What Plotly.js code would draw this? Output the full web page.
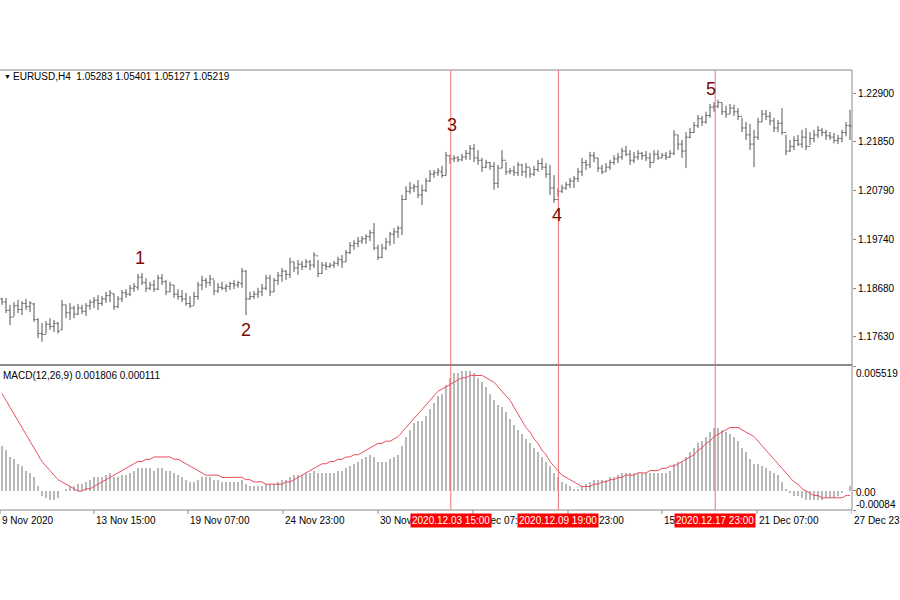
<!DOCTYPE html>
<html>
<head>
<meta charset="utf-8">
<script src="https://cdn.plot.ly/plotly-3.0.1.min.js"></script>
<style>html,body{margin:0;padding:0;background:#fff;}#chart{width:900px;height:600px;}</style>
</head>
<body>
<div id="chart"></div>
<script>
// ---- price bars (EURUSD H4), one entry per bar, left to right ----
const barOpen = [
1.1845,1.1838,1.1820,1.1806,1.1830,1.1822,1.1835,1.1828,1.1834,1.1800,
1.1770,1.1768,1.1790,1.1785,1.1792,1.1778,1.1832,1.1815,1.1825,1.1812,
1.1825,1.1818,1.1830,1.1838,1.1842,1.1835,1.1845,1.1852,1.1856,1.1828,
1.1845,1.1858,1.1855,1.1868,1.1870,1.1892,1.1880,1.1868,1.1875,1.1866,
1.1890,1.1882,1.1860,1.1875,1.1855,1.1850,1.1845,1.1835,1.1830,1.1850,
1.1875,1.1885,1.1880,1.1888,1.1862,1.1870,1.1868,1.1872,1.1878,1.1875,
1.1878,1.1905,1.1845,1.1850,1.1855,1.1860,1.1868,1.1890,1.1860,1.1885,
1.1895,1.1905,1.1898,1.1925,1.1912,1.1920,1.1915,1.1925,1.1918,1.1938,
1.1900,1.1918,1.1915,1.1918,1.1922,1.1930,1.1925,1.1945,1.1960,1.1965,
1.1970,1.1975,1.1980,1.1988,1.1955,1.1935,1.1955,1.1968,1.1985,1.1990,
1.1998,1.2060,1.2078,1.2085,1.2088,1.2070,1.2080,1.2100,1.2115,1.2118,
1.2120,1.2112,1.2155,1.2148,1.2150,1.2146,1.2152,1.2160,1.2170,1.2150,
1.2145,1.2130,1.2140,1.2132,1.2095,1.2128,1.2145,1.2120,1.2122,1.2118,
1.2135,1.2120,1.2130,1.2115,1.2125,1.2138,1.2130,1.2115,1.2085,1.2060,
1.2078,1.2085,1.2092,1.2100,1.2105,1.2120,1.2140,1.2135,1.2155,1.2150,
1.2128,1.2120,1.2130,1.2140,1.2148,1.2152,1.2165,1.2158,1.2145,1.2152,
1.2160,1.2155,1.2150,1.2140,1.2158,1.2150,1.2156,1.2152,1.2160,1.2200,
1.2180,1.2165,1.2195,1.2205,1.2220,1.2235,1.2228,1.2242,1.2260,1.2262,
1.2270,1.2250,1.2245,1.2258,1.2250,1.2240,1.2215,1.2200,1.2180,1.2195,
1.2228,1.2245,1.2240,1.2230,1.2215,1.2225,1.2205,1.2165,1.2175,1.2188,
1.2180,1.2195,1.2175,1.2192,1.2200,1.2210,1.2205,1.2198,1.2195,1.2188,
1.2192,1.2205,1.2220];
const barHigh = [
1.1847,1.1847,1.1832,1.1838,1.1843,1.1840,1.1845,1.1840,1.1836,1.1803,
1.1793,1.1797,1.1803,1.1799,1.1795,1.1843,1.1832,1.1836,1.1830,1.1834,
1.1832,1.1836,1.1843,1.1849,1.1853,1.1851,1.1860,1.1864,1.1856,1.1851,
1.1864,1.1866,1.1875,1.1879,1.1899,1.1901,1.1890,1.1882,1.1886,1.1897,
1.1899,1.1886,1.1882,1.1875,1.1866,1.1864,1.1858,1.1851,1.1860,1.1882,
1.1895,1.1890,1.1897,1.1886,1.1879,1.1882,1.1877,1.1882,1.1886,1.1884,
1.1912,1.1907,1.1860,1.1862,1.1869,1.1877,1.1897,1.1897,1.1890,1.1903,
1.1912,1.1907,1.1934,1.1925,1.1929,1.1927,1.1931,1.1929,1.1946,1.1929,
1.1925,1.1925,1.1923,1.1927,1.1936,1.1940,1.1951,1.1968,1.1972,1.1979,
1.1981,1.1985,1.1994,1.2009,1.1962,1.1964,1.1977,1.1990,1.1998,1.2003,
1.2070,1.2089,1.2098,1.2094,1.2102,1.2092,1.2107,1.2124,1.2124,1.2128,
1.2133,1.2163,1.2156,1.2156,1.2154,1.2159,1.2167,1.2178,1.2180,1.2167,
1.2150,1.2146,1.2141,1.2141,1.2135,1.2167,1.2141,1.2128,1.2133,1.2141,
1.2137,1.2139,1.2128,1.2133,1.2146,1.2150,1.2139,1.2135,1.2113,1.2085,
1.2092,1.2098,1.2107,1.2111,1.2128,1.2150,1.2146,1.2163,1.2163,1.2150,
1.2135,1.2139,1.2146,1.2156,1.2161,1.2172,1.2176,1.2167,1.2163,1.2167,
1.2163,1.2165,1.2161,1.2167,1.2167,1.2161,1.2163,1.2167,1.2210,1.2200,
1.2189,1.2206,1.2215,1.2228,1.2243,1.2241,1.2250,1.2267,1.2271,1.2276,
1.2269,1.2263,1.2267,1.2265,1.2258,1.2237,1.2228,1.2224,1.2211,1.2237,
1.2254,1.2254,1.2250,1.2237,1.2232,1.2258,1.2200,1.2189,1.2197,1.2200,
1.2211,1.2215,1.2206,1.2211,1.2219,1.2215,1.2211,1.2206,1.2204,1.2200,
1.2211,1.2228,1.2254];
const barLow = [
1.1832,1.1814,1.1788,1.1808,1.1814,1.1810,1.1821,1.1816,1.1795,1.1760,
1.1752,1.1770,1.1778,1.1773,1.1770,1.1778,1.1803,1.1799,1.1803,1.1810,
1.1812,1.1808,1.1821,1.1825,1.1821,1.1830,1.1836,1.1838,1.1821,1.1825,
1.1838,1.1847,1.1851,1.1860,1.1864,1.1875,1.1860,1.1864,1.1860,1.1864,
1.1875,1.1853,1.1860,1.1847,1.1843,1.1838,1.1830,1.1825,1.1832,1.1843,
1.1864,1.1869,1.1873,1.1853,1.1858,1.1864,1.1860,1.1864,1.1866,1.1869,
1.1869,1.1810,1.1843,1.1845,1.1847,1.1851,1.1864,1.1851,1.1860,1.1875,
1.1882,1.1886,1.1890,1.1903,1.1897,1.1907,1.1912,1.1907,1.1912,1.1892,
1.1899,1.1907,1.1912,1.1912,1.1916,1.1912,1.1925,1.1942,1.1951,1.1957,
1.1964,1.1964,1.1970,1.1951,1.1929,1.1933,1.1951,1.1960,1.1964,1.1977,
1.1983,1.2059,1.2072,1.2076,1.2063,1.2048,1.2076,1.2098,1.2107,1.2111,
1.2107,1.2113,1.2137,1.2141,1.2141,1.2143,1.2146,1.2146,1.2141,1.2135,
1.2120,1.2128,1.2124,1.2081,1.2085,1.2128,1.2113,1.2115,1.2111,1.2111,
1.2111,1.2107,1.2107,1.2111,1.2120,1.2124,1.2107,1.2070,1.2053,1.2066,
1.2074,1.2081,1.2085,1.2085,1.2098,1.2111,1.2124,1.2128,1.2141,1.2120,
1.2115,1.2120,1.2124,1.2135,1.2139,1.2146,1.2154,1.2135,1.2139,1.2146,
1.2146,1.2143,1.2128,1.2141,1.2146,1.2150,1.2146,1.2150,1.2156,1.2167,
1.2150,1.2128,1.2193,1.2204,1.2215,1.2219,1.2224,1.2237,1.2250,1.2258,
1.2243,1.2237,1.2245,1.2241,1.2232,1.2206,1.2189,1.2167,1.2130,1.2189,
1.2228,1.2232,1.2221,1.2206,1.2206,1.2200,1.2156,1.2163,1.2167,1.2176,
1.2172,1.2167,1.2178,1.2184,1.2193,1.2197,1.2189,1.2189,1.2182,1.2180,
1.2184,1.2197,1.2189];
const barClose = [
1.1838,1.1820,1.1805,1.1830,1.1822,1.1835,1.1828,1.1836,1.1800,1.1770,
1.1768,1.1790,1.1785,1.1792,1.1775,1.1832,1.1815,1.1825,1.1812,1.1825,
1.1818,1.1830,1.1838,1.1842,1.1835,1.1845,1.1852,1.1858,1.1828,1.1845,
1.1858,1.1855,1.1868,1.1872,1.1892,1.1880,1.1868,1.1875,1.1866,1.1890,
1.1882,1.1860,1.1875,1.1855,1.1850,1.1845,1.1835,1.1830,1.1850,1.1875,
1.1885,1.1880,1.1888,1.1862,1.1870,1.1868,1.1872,1.1878,1.1875,1.1880,
1.1905,1.1845,1.1850,1.1855,1.1860,1.1868,1.1890,1.1860,1.1885,1.1895,
1.1905,1.1898,1.1925,1.1912,1.1920,1.1915,1.1925,1.1918,1.1940,1.1900,
1.1918,1.1915,1.1918,1.1922,1.1930,1.1925,1.1945,1.1960,1.1965,1.1970,
1.1975,1.1980,1.1988,1.1955,1.1935,1.1955,1.1968,1.1985,1.1990,1.1998,
1.2060,1.2078,1.2085,1.2088,1.2070,1.2080,1.2100,1.2115,1.2118,1.2122,
1.2112,1.2155,1.2148,1.2150,1.2146,1.2152,1.2160,1.2170,1.2150,1.2145,
1.2130,1.2140,1.2132,1.2095,1.2128,1.2145,1.2120,1.2122,1.2118,1.2135,
1.2120,1.2130,1.2115,1.2125,1.2138,1.2130,1.2115,1.2085,1.2060,1.2078,
1.2085,1.2092,1.2100,1.2105,1.2120,1.2140,1.2135,1.2155,1.2150,1.2128,
1.2120,1.2130,1.2140,1.2148,1.2152,1.2165,1.2158,1.2145,1.2152,1.2160,
1.2155,1.2150,1.2140,1.2158,1.2150,1.2156,1.2152,1.2160,1.2200,1.2180,
1.2165,1.2195,1.2205,1.2220,1.2235,1.2228,1.2242,1.2260,1.2262,1.2270,
1.2250,1.2245,1.2258,1.2250,1.2240,1.2215,1.2200,1.2180,1.2195,1.2228,
1.2245,1.2240,1.2230,1.2215,1.2225,1.2205,1.2165,1.2175,1.2188,1.2180,
1.2195,1.2175,1.2192,1.2200,1.2210,1.2205,1.2198,1.2195,1.2188,1.2192,
1.2205,1.2220,1.2219];

// ---- MACD(12,26,9): main (histogram) and signal ----
const macdMain = [
0.0020,0.0018,0.0015,0.0014,0.0012,0.0011,0.0009,0.0008,0.0006,0.0002,
-0.0002,-0.0003,-0.0004,-0.0004,-0.0003,0.0000,0.0001,0.0002,0.0002,0.0003,
0.0003,0.0004,0.0005,0.0006,0.0006,0.0006,0.0007,0.0008,0.0006,0.0006,
0.0007,0.0007,0.0008,0.0009,0.0010,0.0010,0.0010,0.0010,0.0009,0.0010,
0.0010,0.0009,0.0009,0.0008,0.0007,0.0006,0.0005,0.0004,0.0004,0.0005,
0.0006,0.0006,0.0006,0.0005,0.0005,0.0004,0.0004,0.0004,0.0004,0.0004,
0.0005,0.0003,0.0002,0.0002,0.0002,0.0002,0.0003,0.0003,0.0003,0.0004,
0.0005,0.0005,0.0006,0.0007,0.0007,0.0007,0.0008,0.0008,0.0009,0.0008,
0.0008,0.0008,0.0008,0.0008,0.0009,0.0009,0.0010,0.0011,0.0012,0.0013,
0.0014,0.0015,0.0016,0.0015,0.0013,0.0013,0.0013,0.0014,0.0015,0.0016,
0.0020,0.0024,0.0027,0.0030,0.0031,0.0031,0.0033,0.0036,0.0039,0.0042,
0.0043,0.0047,0.0050,0.0052,0.0052,0.0053,0.0053,0.0053,0.0052,0.0050,
0.0048,0.0046,0.0043,0.0040,0.0038,0.0037,0.0035,0.0032,0.0029,0.0027,
0.0025,0.0023,0.0021,0.0019,0.0017,0.0015,0.0013,0.0011,0.0008,0.0006,
0.0004,0.0003,0.0002,0.0001,0.0001,0.0002,0.0003,0.0004,0.0005,0.0005,
0.0005,0.0005,0.0006,0.0006,0.0007,0.0008,0.0008,0.0008,0.0008,0.0008,
0.0008,0.0008,0.0008,0.0008,0.0008,0.0008,0.0008,0.0009,0.0012,0.0013,
0.0013,0.0015,0.0017,0.0019,0.0021,0.0022,0.0024,0.0026,0.0028,0.0028,
0.0027,0.0026,0.0025,0.0024,0.0022,0.0019,0.0017,0.0014,0.0012,0.0012,
0.0011,0.0010,0.0009,0.0008,0.0007,0.0004,0.0001,-0.0001,-0.0002,-0.0002,
-0.0003,-0.0004,-0.0004,-0.0004,-0.0004,-0.0004,-0.0003,-0.0003,-0.0003,-0.0002,
-0.0001,0.0000,0.0002];
const macdSignal = [
0.0043,0.0040,0.0037,0.0034,0.0031,0.0028,0.0025,0.0022,0.0019,0.0016,
0.0013,0.0011,0.0009,0.0007,0.0005,0.0004,0.0003,0.0002,0.0001,0.0000,
0.0000,0.0001,0.0001,0.0002,0.0003,0.0004,0.0005,0.0006,0.0007,0.0008,
0.0009,0.0010,0.0011,0.0012,0.0013,0.0013,0.0014,0.0014,0.0015,0.0015,
0.0015,0.0015,0.0015,0.0014,0.0014,0.0013,0.0012,0.0011,0.0010,0.0009,
0.0008,0.0007,0.0007,0.0007,0.0007,0.0006,0.0006,0.0006,0.0006,0.0006,
0.0006,0.0005,0.0005,0.0004,0.0004,0.0004,0.0003,0.0003,0.0003,0.0003,
0.0003,0.0004,0.0004,0.0005,0.0006,0.0007,0.0008,0.0009,0.0010,0.0011,
0.0012,0.0012,0.0013,0.0013,0.0014,0.0014,0.0015,0.0015,0.0016,0.0016,
0.0017,0.0018,0.0019,0.0020,0.0021,0.0021,0.0022,0.0022,0.0023,0.0024,
0.0026,0.0028,0.0030,0.0032,0.0034,0.0036,0.0038,0.0040,0.0042,0.0044,
0.0045,0.0046,0.0047,0.0048,0.0049,0.0050,0.0050,0.0051,0.0051,0.0051,
0.0051,0.0050,0.0049,0.0048,0.0046,0.0044,0.0042,0.0040,0.0037,0.0034,
0.0031,0.0028,0.0026,0.0023,0.0021,0.0018,0.0016,0.0013,0.0011,0.0009,
0.0007,0.0006,0.0005,0.0004,0.0003,0.0002,0.0002,0.0002,0.0003,0.0003,
0.0004,0.0004,0.0005,0.0005,0.0006,0.0006,0.0007,0.0007,0.0007,0.0008,
0.0008,0.0008,0.0009,0.0009,0.0009,0.0010,0.0010,0.0011,0.0011,0.0012,
0.0013,0.0014,0.0015,0.0016,0.0018,0.0019,0.0021,0.0022,0.0024,0.0025,
0.0026,0.0027,0.0028,0.0028,0.0028,0.0027,0.0026,0.0025,0.0024,0.0022,
0.0020,0.0018,0.0016,0.0014,0.0012,0.0010,0.0008,0.0006,0.0004,0.0003,
0.0001,0.0000,-0.0001,-0.0002,-0.0002,-0.0003,-0.0003,-0.0003,-0.0003,-0.0003,
-0.0003,-0.0002,-0.0002];

// ---- axis labels ----
const priceTicks = [1.17630, 1.18680, 1.19740, 1.20790, 1.21850, 1.22900];
const macdMax = 0.005519, macdMin = -0.00084;
const timeTickBar = [-0.5, 23, 46.5, 70.25, 94, 117.75, 141.5, 165, 188.75, 212.5];
const timeTickText = ["9 Nov 2020", "13 Nov 15:00", "19 Nov 07:00", "24 Nov 23:00", "30 Nov 15:00",
                      "4 Dec 07:00", "9 Dec 23:00", "15 Dec 15:00", "21 Dec 07:00", "27 Dec 23:00"];
// ---- marked vertical lines and wave labels ----
const vlineBar = [112.2, 139.1, 178.3];
const vlineText = ["2020.12.03 15:00", "2020.12.09 19:00", "2020.12.17 23:00"];
const waveText = ["1", "2", "3", "4", "5"];
const waveBar = [34.5, 61, 112.5, 138.75, 177.25];
const wavePrice = [1.1933, 1.1778, 1.2221, 1.2027, 1.2299];
const headerText = "EURUSD,H4\u00a0\u00a01.05283 1.05401 1.05127 1.05219";
const macdHeader = "MACD(12,26,9) 0.001806 0.000111";

const idx = barOpen.map((_, i) => i);
const FONT = "Liberation Sans, Arial, sans-serif";
const FS = 10;
const px = v => v / 900, py = v => 1 - v / 600;

const traces = [
  {type: 'ohlc', x: idx, open: barOpen, high: barHigh, low: barLow, close: barClose,
   xaxis: 'x', yaxis: 'y', tickwidth: 0.4, hoverinfo: 'skip',
   increasing: {line: {color: '#555555', width: 1}},
   decreasing: {line: {color: '#555555', width: 1}}},
  {type: 'bar', x: idx, y: macdMain, xaxis: 'x', yaxis: 'y2', width: 0.45,
   marker: {color: '#b8b8b8', line: {width: 0}}, hoverinfo: 'skip'},
  {type: 'scatter', mode: 'lines', x: idx, y: macdSignal, xaxis: 'x', yaxis: 'y2',
   line: {color: '#e8505c', width: 1, shape: 'spline', smoothing: 1}, hoverinfo: 'skip'}
];

const shapes = [];
const lineGray = {color: '#8a8a8a', width: 1};
shapes.push({type: 'line', xref: 'paper', yref: 'paper', x0: 0, x1: px(852), y0: py(70), y1: py(70), line: lineGray});
shapes.push({type: 'line', xref: 'paper', yref: 'paper', x0: 0, x1: px(852), y0: py(365), y1: py(365), line: {color: '#8a8a8a', width: 2}});
shapes.push({type: 'line', xref: 'paper', yref: 'paper', x0: 0, x1: px(852), y0: py(510), y1: py(510), line: lineGray});
shapes.push({type: 'line', xref: 'paper', yref: 'paper', x0: px(852), x1: px(852), y0: py(510), y1: py(70), line: lineGray});
timeTickBar.forEach(b => shapes.push({type: 'line', xref: 'x', yref: 'paper', x0: b, x1: b, y0: py(510), y1: py(514), line: lineGray}));
vlineBar.forEach(b => shapes.push({type: 'line', xref: 'x', yref: 'paper', x0: b, x1: b, y0: py(510), y1: py(70), line: {color: '#f07070', width: 1}}));

const ann = [];
const txtFont = {family: FONT, size: FS, color: '#000'};
ann.push({xref: 'paper', yref: 'paper', x: px(2), y: py(77), xanchor: 'left', yanchor: 'middle', showarrow: false,
          text: '\u25BC', font: {family: FONT, size: 7, color: '#000'}});
ann.push({xref: 'paper', yref: 'paper', x: px(11), y: py(77), xanchor: 'left', yanchor: 'middle', showarrow: false,
          text: headerText, font: txtFont});
ann.push({xref: 'paper', yref: 'paper', x: px(1), y: py(375), xanchor: 'left', yanchor: 'middle', showarrow: false,
          text: macdHeader, font: txtFont});
ann.push({xref: 'paper', yref: 'y2', x: px(854), y: macdMax, xanchor: 'left', yanchor: 'top', showarrow: false,
          text: macdMax.toFixed(6), font: txtFont});
ann.push({xref: 'paper', yref: 'y2', x: px(854), y: 0, xanchor: 'left', yanchor: 'middle', yshift: -2, showarrow: false,
          text: '0.00', font: txtFont});
ann.push({xref: 'paper', yref: 'y2', x: px(854), y: macdMin, xanchor: 'left', yanchor: 'bottom', yshift: -2, showarrow: false,
          text: macdMin.toFixed(5), font: txtFont});
timeTickBar.forEach((b, k) => ann.push({xref: 'x', yref: 'paper', x: b, y: py(520), xanchor: 'left', yanchor: 'middle',
          showarrow: false, text: timeTickText[k], font: txtFont}));
vlineBar.forEach((b, k) => ann.push({xref: 'x', yref: 'paper', x: b, y: py(520), xanchor: 'center', yanchor: 'middle',
          showarrow: false, text: vlineText[k], bgcolor: '#ff0000', borderpad: 1,
          font: {family: FONT, size: FS, color: '#ffffff'}}));
waveText.forEach((t, k) => ann.push({xref: 'x', yref: 'y', x: waveBar[k], y: wavePrice[k], xanchor: 'center', yanchor: 'middle',
          showarrow: false, text: t, font: {family: FONT, size: 18, color: '#7a0a0a'}}));

const layout = {
  width: 900, height: 600, margin: {l: 0, r: 0, t: 0, b: 0},
  paper_bgcolor: '#ffffff', plot_bgcolor: '#ffffff', showlegend: false, bargap: 0,
  xaxis: {domain: [0, px(852)], range: [-0.5, 212.5], anchor: 'y2', showticklabels: false,
          showgrid: false, zeroline: false, showline: false, ticks: '', rangeslider: {visible: false}, fixedrange: true},
  yaxis: {domain: [py(364), py(70)], range: [1.170394, 1.234045], side: 'right', anchor: 'x',
          tickvals: priceTicks, ticktext: priceTicks.map(v => v.toFixed(5)), ticks: 'outside', ticklen: 3,
          tickcolor: '#8a8a8a', showgrid: false, zeroline: false, showline: false,
          tickfont: {family: FONT, size: FS, color: '#000'}},
  yaxis2: {domain: [py(510), py(366)], range: [macdMin, macdMax], side: 'right', anchor: 'x',
           tickvals: [0, macdMax, macdMin], ticktext: ['', '', ''], ticks: 'outside', ticklen: 3, tickcolor: '#8a8a8a',
           showgrid: false, zeroline: false, showline: false,
           tickfont: {family: FONT, size: FS, color: '#000'}},
  shapes: shapes, annotations: ann
};

Plotly.newPlot('chart', traces, layout, {staticPlot: true, displayModeBar: false});
</script>
</body>
</html>
